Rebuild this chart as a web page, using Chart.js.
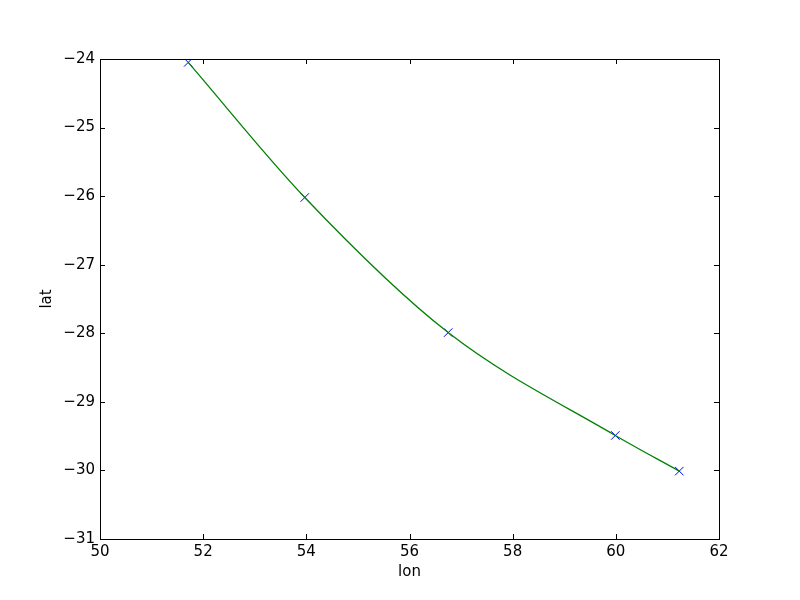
<!DOCTYPE html>
<html>
<head>
<meta charset="utf-8">
<script src="https://cdn.jsdelivr.net/npm/chart.js@4"></script>
<style>
  body { margin: 0; background: #fff; }
  #wrap { width: 800px; height: 600px; }
</style>
</head>
<body>
<div id="wrap"><canvas id="track"></canvas></div>
<script>
// data
var lon_values = [51.71, 53.97, 56.75, 59.99, 61.23];
var lat_values = [-24.05, -26.02, -27.99, -29.49, -30.01];
var lon_ticks = [50, 52, 54, 56, 58, 60, 62];
var lat_ticks = [-31, -30, -29, -28, -27, -26, -25, -24];

var points = lon_values.map(function(v, i) { return {x: v, y: lat_values[i]}; });

function minus(v) { return String(v).replace('-', '\u2212'); }

// frame and inward ticks like the old matplotlib look
var frame_plugin = {
  id: 'frame',
  afterDraw: function(chart) {
    var ctx = chart.ctx, a = chart.chartArea;
    var xs = chart.scales.x, ys = chart.scales.y;
    ctx.save();
    ctx.strokeStyle = '#000';
    ctx.lineWidth = 1;
    ctx.beginPath();
    lon_ticks.forEach(function(t) {
      var px = Math.round(xs.getPixelForValue(t)) + 0.5;
      ctx.moveTo(px, a.bottom); ctx.lineTo(px, a.bottom - 5);
      ctx.moveTo(px, a.top); ctx.lineTo(px, a.top + 5);
    });
    lat_ticks.forEach(function(t) {
      var py = Math.round(ys.getPixelForValue(t)) + 0.5;
      ctx.moveTo(a.left, py); ctx.lineTo(a.left + 5, py);
      ctx.moveTo(a.right, py); ctx.lineTo(a.right - 5, py);
    });
    ctx.stroke();
    ctx.strokeRect(Math.round(a.left) + 0.5, Math.round(a.top) + 0.5,
                   Math.round(a.right - a.left), Math.round(a.bottom - a.top));
    ctx.restore();
  }
};

Chart.defaults.font.family = '"DejaVu Sans", sans-serif';
Chart.defaults.font.size = 15;
Chart.defaults.color = '#000';

new Chart(document.getElementById('track'), {
  type: 'scatter',
  data: {
    datasets: [
      {
        label: 'track',
        data: points,
        showLine: true,
        borderColor: '#008000',
        borderWidth: 1.3,
        pointRadius: 0,
        cubicInterpolationMode: 'monotone',
        order: 0
      },
      {
        label: 'fixes',
        data: points,
        showLine: false,
        pointStyle: 'crossRot',
        pointRadius: 6,
        borderColor: '#0000ff',
        borderWidth: 1,
        order: 1
      }
    ]
  },
  options: {
    responsive: true,
    maintainAspectRatio: false,
    animation: false,
    layout: { padding: { left: 38, top: 59, right: 81, bottom: 19 } },
    plugins: { legend: { display: false }, tooltip: { enabled: false } },
    scales: {
      x: {
        type: 'linear',
        min: 50, max: 62,
        afterBuildTicks: function(s) { s.ticks = lon_ticks.map(function(v) { return {value: v}; }); },
        afterFit: function(s) { s.height = 42; },
        grid: { display: false, drawTicks: false },
        border: { display: false },
        ticks: { padding: 4, maxRotation: 0, callback: function(v) { return minus(v); } },
        title: { display: true, text: 'lon', padding: { top: 0, bottom: 0 } }
      },
      y: {
        type: 'linear',
        min: -31, max: -24,
        afterBuildTicks: function(s) { s.ticks = lat_ticks.map(function(v) { return {value: v}; }); },
        afterFit: function(s) { s.width = 62; },
        grid: { display: false, drawTicks: false },
        border: { display: false },
        ticks: { padding: 5, callback: function(v) { return minus(v); } },
        title: { display: true, text: 'lat', padding: { top: 0, bottom: 0 } }
      }
    }
  },
  plugins: [frame_plugin]
});
</script>
</body>
</html>
